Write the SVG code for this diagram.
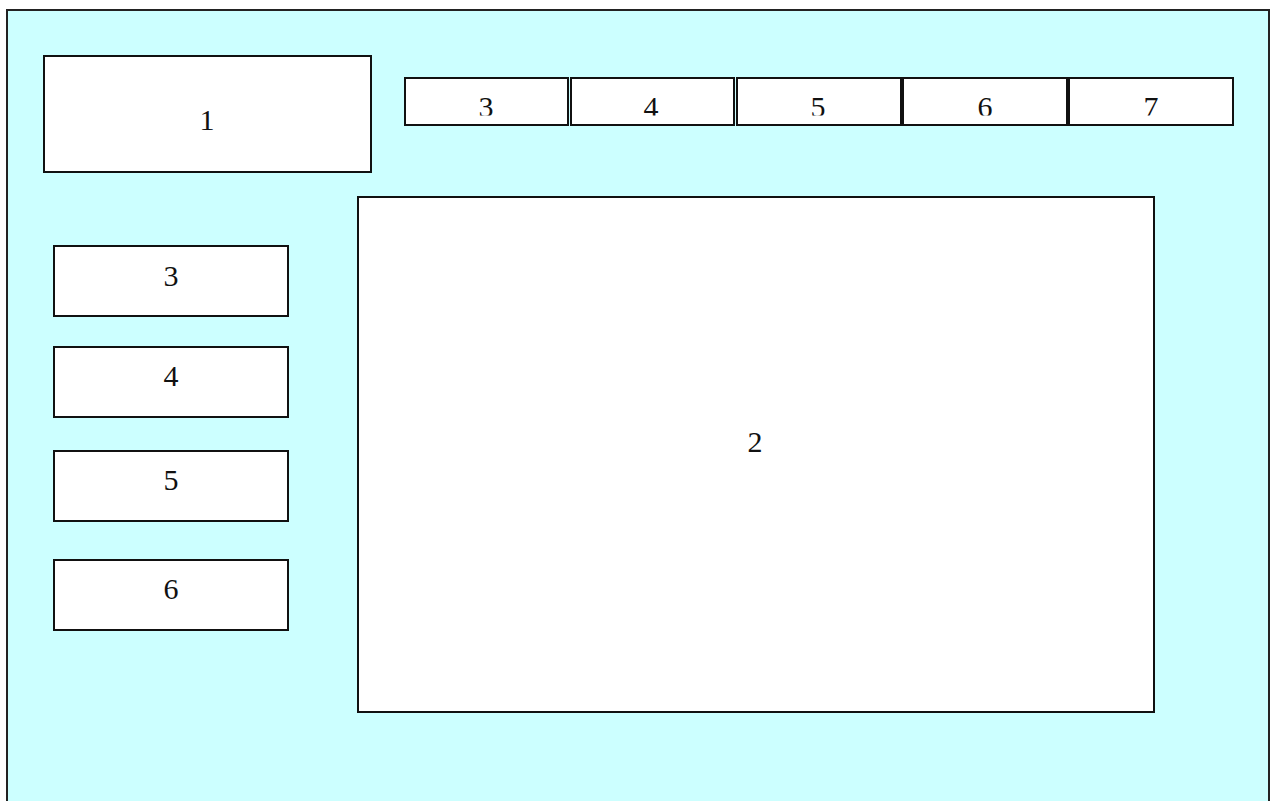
<svg xmlns="http://www.w3.org/2000/svg" width="1275" height="801" viewBox="0 0 1275 801">
<style>
.box{fill:#ffffff;stroke:#111111;stroke-width:2}
.lbl{font-family:"Liberation Serif","Times New Roman",serif;font-size:30px;fill:#111111;text-anchor:middle}
</style>
<defs>
<clipPath id="tabclip"><rect x="390" y="70" width="860" height="45.5"/></clipPath>
</defs>
<rect width="1275" height="801" fill="#ffffff"/>
<g id="frame">
<rect x="7" y="10" width="1262" height="800" fill="#ccffff" stroke="#222222" stroke-width="2"/>
</g>
<g id="node1"><rect class="box" x="44" y="56" width="327" height="116"/><text class="lbl" x="207" y="130">1</text></g>
<g id="node2"><rect class="box" x="358" y="197" width="796" height="515"/><text class="lbl" x="755" y="452">2</text></g>
<g id="tab3"><rect class="box" x="405" y="78" width="163" height="47"/><text class="lbl" x="486" y="116.5" clip-path="url(#tabclip)">3</text></g>
<g id="tab4"><rect class="box" x="571" y="78" width="163" height="47"/><text class="lbl" x="651" y="116.5" clip-path="url(#tabclip)">4</text></g>
<g id="tab5"><rect class="box" x="737" y="78" width="164" height="47"/><text class="lbl" x="818" y="116.5" clip-path="url(#tabclip)">5</text></g>
<g id="tab6"><rect class="box" x="903" y="78" width="164" height="47"/><text class="lbl" x="985" y="116.5" clip-path="url(#tabclip)">6</text></g>
<g id="tab7"><rect class="box" x="1069" y="78" width="164" height="47"/><text class="lbl" x="1151" y="116.5" clip-path="url(#tabclip)">7</text></g>
<g id="side3"><rect class="box" x="54" y="246" width="234" height="70"/><text class="lbl" x="171" y="286">3</text></g>
<g id="side4"><rect class="box" x="54" y="347" width="234" height="70"/><text class="lbl" x="171" y="386">4</text></g>
<g id="side5"><rect class="box" x="54" y="451" width="234" height="70"/><text class="lbl" x="171" y="490">5</text></g>
<g id="side6"><rect class="box" x="54" y="560" width="234" height="70"/><text class="lbl" x="171" y="599">6</text></g>
<g id="connectors"></g>
</svg>
